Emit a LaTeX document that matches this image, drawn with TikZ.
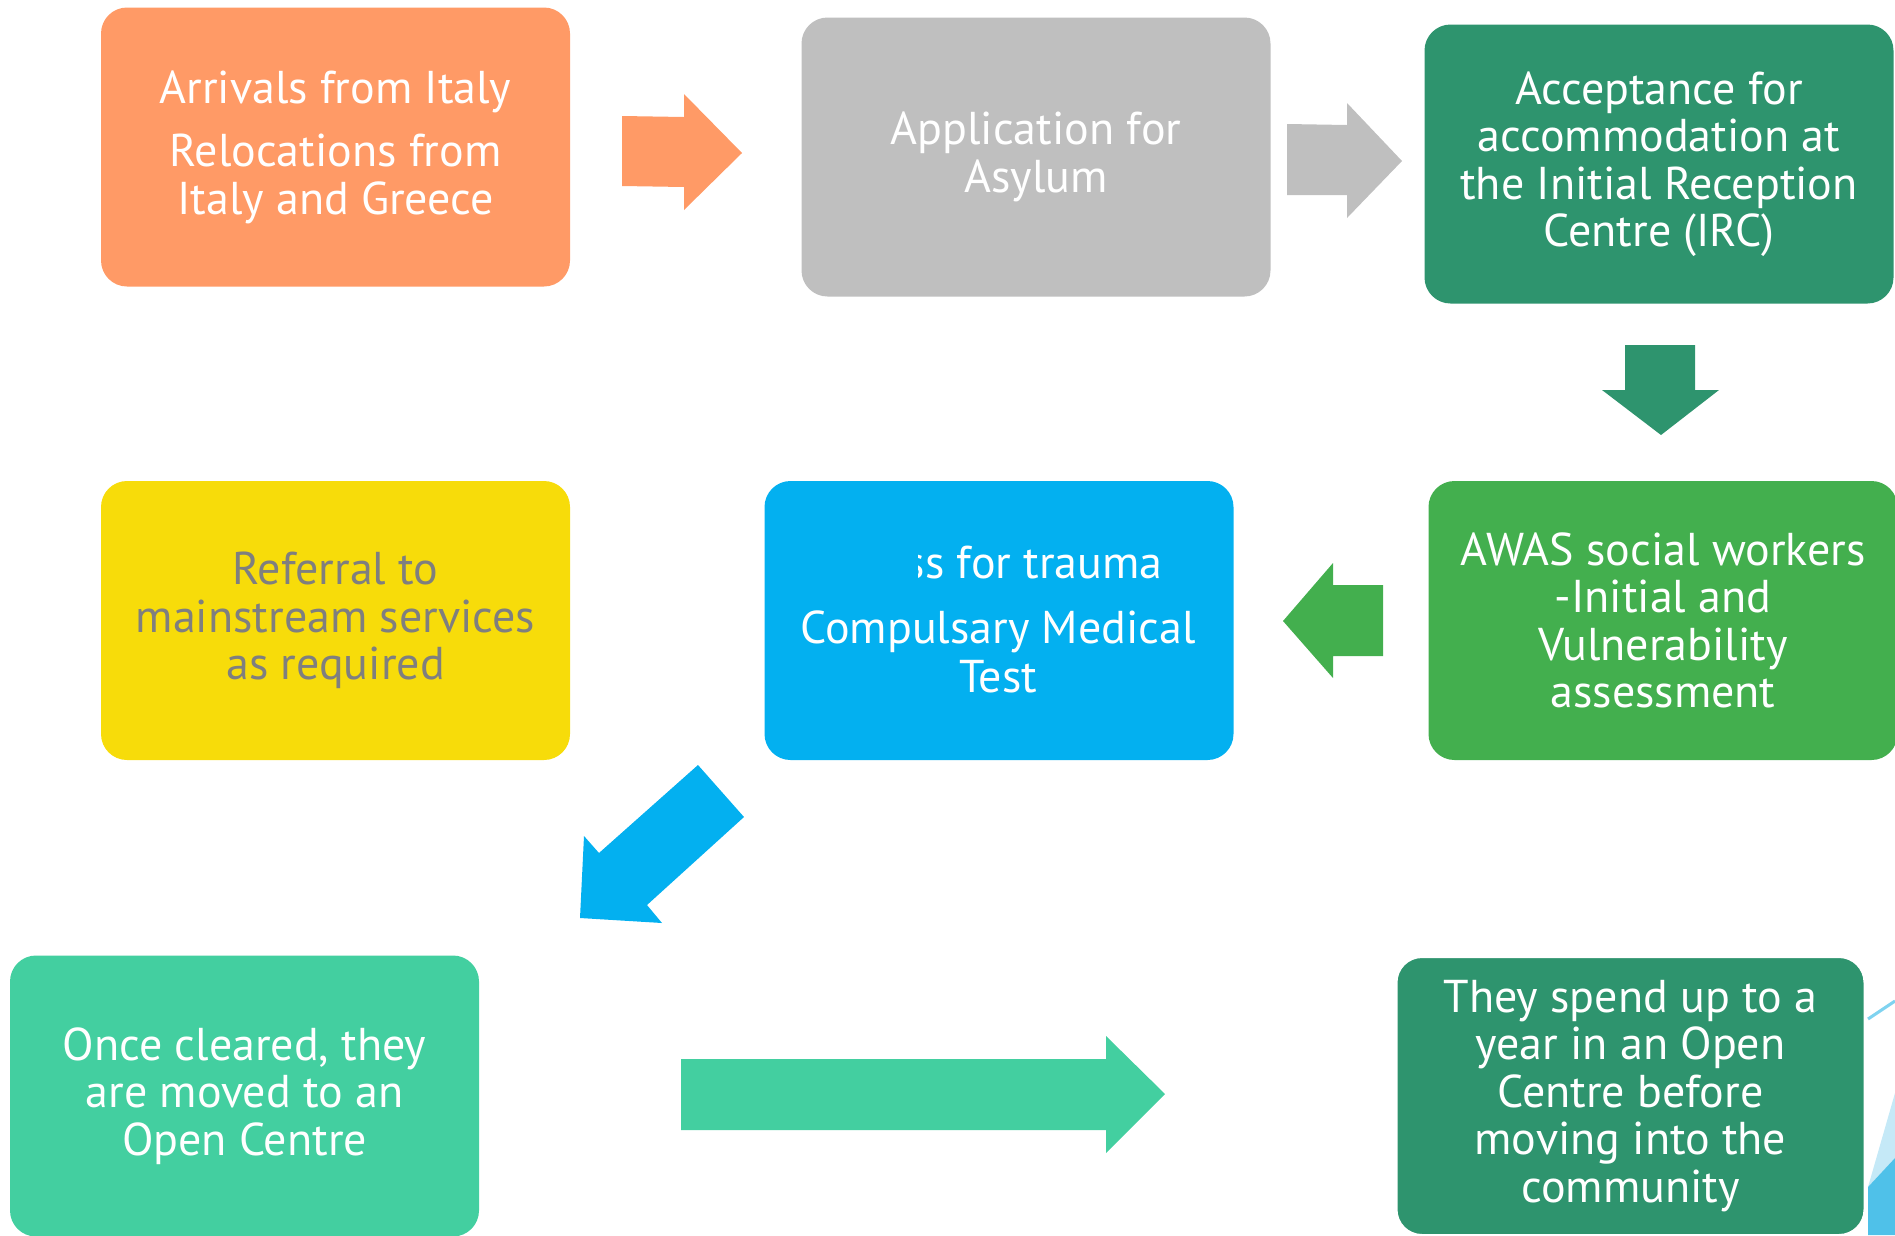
\documentclass[tikz,border=0pt]{standalone}
\usepackage{fontspec}
\setmainfont{PT Sans}
\definecolor{cOrange}{HTML}{FF9A66}
\definecolor{cGray}{HTML}{BFBFBF}
\definecolor{cDark}{HTML}{2E946E}
\definecolor{cYellow}{HTML}{F7DC0A}
\definecolor{cBlue}{HTML}{03B0F0}
\definecolor{cGreen}{HTML}{43AF4E}
\definecolor{cTeal}{HTML}{43CFA0}
\definecolor{cText}{HTML}{7F7F7F}
\definecolor{cLight}{HTML}{C5E9F7}
\definecolor{cMid}{HTML}{4FC1E9}
\definecolor{cLine}{HTML}{7FD3F0}
\tikzset{
  box/.style={rectangle, rounded corners=26pt, draw=none, minimum width=469pt,
    minimum height=279pt, align=center, text=white, inner sep=0pt,
    font=\fontsize{46}{47.5}\selectfont},
  boxtext/.style={text=white, inner sep=0pt, font=\fontsize{46}{47.5}\selectfont}
}
\begin{document}
\begin{tikzpicture}[x=1pt,y=-1pt]
\useasboundingbox (0,0) rectangle (1895,1235);
% background decoration bottom right
\fill[cLight] (1868,1187) -- (1895,1093) -- (1895,1158) -- cycle;
\fill[cMid] (1868,1187) -- (1895,1158) -- (1895,1235) -- (1868,1235) -- cycle;
\draw[cLine, line width=3pt] (1868,1019) -- (1895,1001);

% boxes
\node[box, fill=cOrange] (arr) at (335.5,147) {Arrivals from Italy\\[16pt]Relocations from\\Italy and Greece};
\node[box, fill=cGray] (app) at (1036,157) {Application for\\Asylum};
\node[box, fill=cDark] (acc) at (1659,164) {Acceptance for\\accommodation at\\the Initial Reception\\Centre (IRC)};
\node[box, fill=cGreen] (awas) at (1663,620.5) {AWAS social workers\\-Initial and\\Vulnerability\\assessment};
\node[box, fill=cBlue] (med) at (999,620.5) {};
\node[box, fill=cYellow, text=cText] (ref) at (335.5,620.5) {Referral to\\mainstream services\\as required};
\node[box, fill=cTeal, minimum height=281pt] (open) at (244.5,1096) {Once cleared, they\\are moved to an\\Open Centre};
\node[box, fill=cDark, draw=white, line width=3pt] (spend) at (1630.5,1096) {They spend up to a\\year in an Open\\Centre before\\moving into the\\community};

% blue box text
\node[boxtext, anchor=base] (medb) at (998,692) {Test};
\node[boxtext, anchor=base] (meda) at (998,643) {Compulsary Medical};
\node[boxtext, anchor=base west] (medt) at (925,578) {s for trauma};
\begin{scope}
\clip (918,520) rectangle (930,600);
\node[boxtext, anchor=base east] (meds) at (medt.base west) {s};
\end{scope}

% block arrows
\fill[cOrange] (622,116) -- (684,117) -- (684,94) -- (742,153) -- (684,210) -- (684,187) -- (622,186) -- cycle;
\fill[cGray] (1287,124) -- (1347,125) -- (1347,103) -- (1402,161) -- (1347,218) -- (1347,195) -- (1287,195) -- cycle;
\fill[cDark] (1625,345) -- (1695,345) -- (1695,390) -- (1719,390) -- (1661,435) -- (1602,390) -- (1625,390) -- cycle;
\fill[cGreen] (1383,585) -- (1383,656) -- (1333,656) -- (1333,678) -- (1283,621) -- (1333,563) -- (1333,585) -- cycle;
\fill[cBlue] (698,765) -- (744,817) -- (647,905) -- (662,923) -- (580,918) -- (584,836) -- (599,853) -- cycle;
\fill[cTeal] (681,1059) -- (1106,1059) -- (1106,1036) -- (1165,1094) -- (1106,1153) -- (1106,1130) -- (681,1130) -- cycle;
\end{tikzpicture}
\end{document}
